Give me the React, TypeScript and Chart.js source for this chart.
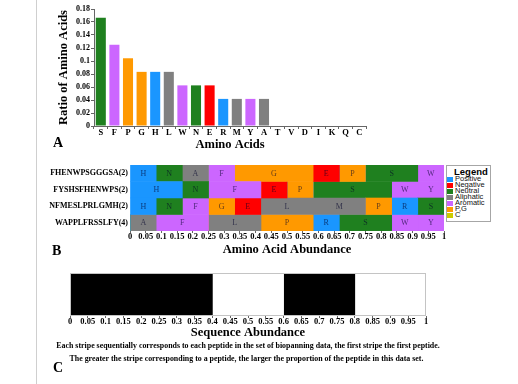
import React, { useEffect, useRef } from "react";
import { Chart, registerables } from "chart.js";

Chart.register(...registerables);

const SERIF = '"Liberation Serif", "Times New Roman", serif';
const LEGEND_FONT = '"Liberation Sans Narrow", "Liberation Sans", Arial, sans-serif';

// ---- Panel A: ratio of amino acids ----
const aminoAcids = ["S", "F", "P", "G", "H", "L", "W", "N", "E", "R", "M", "Y", "A", "T", "V", "D", "I", "K", "Q", "C"];
const aminoRatios = [0.1667, 0.125, 0.1042, 0.0833, 0.0833, 0.0833, 0.0625, 0.0625, 0.0625, 0.0417, 0.0417, 0.0417, 0.0417, 0, 0, 0, 0, 0, 0, 0];
const aminoClasses = ["Neutral", "Aromatic", "P,G", "P,G", "Positive", "Aliphatic", "Aromatic", "Neutral", "Negative", "Positive", "Aliphatic", "Aromatic", "Aliphatic", "Neutral", "Aliphatic", "Negative", "Aliphatic", "Positive", "Neutral", "C"];

// ---- Legend classes ----
const classNames = ["Positive", "Negative", "Neutral", "Aliphatic", "Aromatic", "P,G", "C"];
const classColors = ["#1a96ff", "#ff0000", "#1f801f", "#808080", "#cc66ff", "#ff9900", "#cccc00"];

// ---- Panel B: amino acid abundance per peptide ----
const peptides = ["FHENWPSGGGSA(2)", "FYSHSFHENWPS(2)", "NFMESLPRLGMH(2)", "WAPPLFRSSLFY(4)"];
const residueOrder = ["H", "N", "A", "F", "G", "E", "L", "M", "P", "R", "S", "W", "Y"];
// one row per residue (in residueOrder), one value per peptide
const residueShares = [
  [0.0833, 0.1667, 0.0833, 0], // H
  [0.0833, 0.0833, 0.0833, 0], // N
  [0.0833, 0, 0, 0.0833], // A
  [0.0833, 0.1667, 0.0833, 0.1667], // F
  [0.25, 0, 0.0833, 0], // G
  [0.0833, 0.0833, 0.0833, 0], // E
  [0, 0, 0.1667, 0.1667], // L
  [0, 0, 0.1667, 0], // M
  [0.0833, 0.0833, 0.0833, 0.1667], // P
  [0, 0, 0.0833, 0.0833], // R
  [0.1667, 0.25, 0.0833, 0.1667], // S
  [0.0833, 0.0833, 0, 0.0833], // W
  [0, 0.0833, 0, 0.0833], // Y
];

// ---- Panel C: sequence abundance stripes ----
const stripeShares = [0.4, 0.2, 0.2, 0.2];
const stripeColors = ["#000000", "#ffffff", "#000000", "#ffffff"];

const colorOf = (aa: string) => {
  const cls = aminoClasses[aminoAcids.indexOf(aa)];
  return classColors[classNames.indexOf(cls)];
};
const fmt = (v: any) => String(parseFloat(Number(v).toFixed(2)));

const tickFont = (size: number) => ({ family: SERIF, size, weight: "bold" as const, lineHeight: 1 });

const segmentLabels = {
  id: "segmentLabels",
  afterDatasetsDraw(chart: any) {
    const ctx = chart.ctx;
    ctx.save();
    ctx.font = `8px ${SERIF}`;
    ctx.fillStyle = "rgba(0,0,40,0.62)";
    ctx.textAlign = "center";
    ctx.textBaseline = "middle";
    chart.data.datasets.forEach((ds: any, di: number) => {
      const meta = chart.getDatasetMeta(di);
      meta.data.forEach((el: any, i: number) => {
        if (!ds.data[i]) return;
        const { x, base, y } = el.getProps(["x", "base", "y"], true);
        ctx.fillText(ds.label, (x + base) / 2, y + 0.5);
      });
    });
    ctx.restore();
  },
};

const boxBorder = {
  id: "boxBorder",
  afterDatasetsDraw(chart: any) {
    const { ctx, chartArea: a } = chart;
    ctx.save();
    ctx.strokeStyle = "#c4c4c4";
    ctx.lineWidth = 1;
    ctx.strokeRect(a.left + 0.5, a.top + 0.5, a.right - a.left - 1, a.bottom - a.top - 1);
    ctx.restore();
  },
};

function ChartBox({ make, left, top, width, height }: any) {
  const ref = useRef<HTMLCanvasElement>(null);
  useEffect(() => {
    const chart = new Chart(ref.current as HTMLCanvasElement, make());
    return () => chart.destroy();
  }, []);
  return (
    <canvas
      ref={ref}
      width={width}
      height={height}
      style={{ position: "absolute", left, top, width, height, display: "block" }}
    />
  );
}

const makeA = (): any => ({
  type: "bar",
  data: {
    labels: aminoAcids,
    datasets: [
      {
        label: "Ratio of Amino Acids",
        data: aminoRatios,
        backgroundColor: aminoAcids.map(colorOf),
        barPercentage: 0.74,
        categoryPercentage: 1,
      },
    ],
  },
  options: {
    responsive: false,
    animation: false,
    layout: { padding: { top: 9, right: 14, left: 0, bottom: 0 } },
    plugins: { legend: { display: false }, tooltip: { enabled: false } },
    scales: {
      x: {
        grid: { drawOnChartArea: false, tickLength: 3, color: "#666" },
        border: { color: "#666" },
        ticks: { font: tickFont(8.5), color: "#000", padding: 0, autoSkip: false, maxRotation: 0 },
        title: {
          display: true,
          text: "Amino Acids",
          color: "#000",
          font: { family: SERIF, size: 12.5, weight: "bold" },
          padding: { top: 0, bottom: 8 },
        },
        afterFit: (s: any) => {
          s.height = 34;
        },
      },
      y: {
        min: 0,
        max: 0.18,
        grid: { drawOnChartArea: false, tickLength: 3, color: "#666" },
        border: { color: "#666" },
        ticks: { stepSize: 0.02, callback: fmt, font: tickFont(8), color: "#000", padding: 1 },
        title: {
          display: true,
          text: "Ratio of Amino Acids",
          color: "#000",
          font: { family: SERIF, size: 12.5, weight: "bold" },
          padding: { top: 16, bottom: 0 },
        },
        afterFit: (s: any) => {
          s.width = 54;
        },
      },
    },
  },
});

const makeB = (): any => ({
  type: "bar",
  data: {
    labels: peptides,
    datasets: residueOrder.map((r, i) => ({
      label: r,
      data: residueShares[i],
      backgroundColor: colorOf(r),
      borderWidth: 0,
      barPercentage: 1,
      categoryPercentage: 1,
    })),
  },
  options: {
    indexAxis: "y",
    responsive: false,
    animation: false,
    layout: { padding: { top: 10, right: 6, left: 0, bottom: 0 } },
    plugins: { legend: { display: false }, tooltip: { enabled: false } },
    scales: {
      x: {
        stacked: true,
        min: 0,
        max: 1,
        grid: { drawOnChartArea: false, tickLength: 2, color: "#666" },
        border: { display: false },
        ticks: { stepSize: 0.05, maxTicksLimit: 30, callback: fmt, font: tickFont(8.5), color: "#000", padding: 0, autoSkip: false, maxRotation: 0, minRotation: 0 },
        title: {
          display: true,
          text: "Amino Acid Abundance",
          color: "#000",
          font: { family: SERIF, size: 12.5, weight: "bold" },
          padding: { top: 0, bottom: 2.5 },
        },
        afterFit: (s: any) => {
          s.height = 29;
        },
      },
      y: {
        stacked: true,
        grid: { display: false, drawTicks: false },
        border: { display: false },
        ticks: { font: tickFont(8), color: "#000", padding: 2 },
        afterFit: (s: any) => {
          s.width = 90;
        },
      },
    },
  },
  plugins: [segmentLabels],
});

const makeC = (): any => ({
  type: "bar",
  data: {
    labels: ["Stripes"],
    datasets: stripeShares.map((v, i) => ({
      label: `Peptide ${i + 1}`,
      data: [v],
      backgroundColor: stripeColors[i],
      borderWidth: 0,
      barPercentage: 1,
      categoryPercentage: 1,
    })),
  },
  options: {
    indexAxis: "y",
    responsive: false,
    animation: false,
    layout: { padding: { top: 11, right: 24, left: 30, bottom: 0 } },
    plugins: { legend: { display: false }, tooltip: { enabled: false } },
    scales: {
      x: {
        stacked: true,
        min: 0,
        max: 1,
        grid: { drawOnChartArea: false, tickLength: 2, color: "#666" },
        border: { display: false },
        ticks: { stepSize: 0.05, maxTicksLimit: 30, callback: fmt, font: tickFont(8.5), color: "#000", padding: 0, autoSkip: false, maxRotation: 0, minRotation: 0 },
        title: {
          display: true,
          text: "Sequence Abundance",
          color: "#000",
          font: { family: SERIF, size: 12.5, weight: "bold" },
          padding: { top: 0, bottom: 1.5 },
        },
        afterFit: (s: any) => {
          s.height = 26;
        },
      },
      y: { stacked: true, display: false },
    },
  },
  plugins: [boxBorder],
});

const panelLetter = (text: string, left: number, top: number) => (
  <div
    style={{
      position: "absolute",
      left,
      top,
      fontFamily: SERIF,
      fontWeight: "bold",
      fontSize: 14,
      lineHeight: "14px",
      color: "#000",
    }}
  >
    {text}
  </div>
);

const captionStyle = (left: number, top: number): any => ({
  position: "absolute",
  left,
  top,
  transform: "translateX(-50%)",
  fontFamily: SERIF,
  fontWeight: "bold",
  fontSize: 7.9,
  lineHeight: "8px",
  whiteSpace: "nowrap",
  color: "#000",
});

export default function App() {
  const legendTop = 165;
  return (
    <div style={{ position: "absolute", left: 0, top: 0, width: 518, height: 384, background: "#fff", overflow: "hidden" }}>
      <div style={{ position: "absolute", left: 36, top: 0, width: 1, height: 384, background: "#cfcfcf" }} />

      <ChartBox make={makeA} left={40} top={0} width={340} height={160} />
      <ChartBox make={makeB} left={40} top={155} width={410} height={105} />
      <ChartBox make={makeC} left={40} top={262} width={410} height={80} />

      {panelLetter("A", 53, 136)}
      {panelLetter("B", 52, 244)}
      {panelLetter("C", 53, 361)}

      {/* Legend for panel B */}
      <div
        style={{
          position: "absolute",
          left: 446,
          top: legendTop,
          width: 45,
          height: 57,
          border: "1px solid #a6a6a6",
          boxSizing: "border-box",
          background: "#fff",
        }}
      />
      <div
        style={{
          position: "absolute",
          left: 454,
          top: legendTop + 2,
          fontFamily: LEGEND_FONT,
          fontWeight: "bold",
          fontSize: 9.5,
          lineHeight: "10px",
          color: "#000",
          whiteSpace: "nowrap",
        }}
      >
        Legend
      </div>
      {classNames.map((name, i) => (
        <React.Fragment key={name}>
          <div
            style={{
              position: "absolute",
              left: 447,
              top: legendTop + 11.5 + i * 6,
              width: 6,
              height: 5,
              background: classColors[i],
            }}
          />
          <div
            style={{
              position: "absolute",
              left: 455,
              top: legendTop + 11 + i * 6,
              fontFamily: LEGEND_FONT,
              fontSize: 7.5,
              lineHeight: "6px",
              height: 6,
              color: "#111",
              whiteSpace: "nowrap",
            }}
          >
            {name}
          </div>
        </React.Fragment>
      ))}

      {/* Panel C captions */}
      <div style={captionStyle(248, 342)}>
        Each stripe sequentially corresponds to each peptide in the set of biopanning data, the first stripe the first peptide.
      </div>
      <div style={captionStyle(246.5, 354.5)}>
        The greater the stripe corresponding to a peptide, the larger the proportion of the peptide in this data set.
      </div>
    </div>
  );
}
